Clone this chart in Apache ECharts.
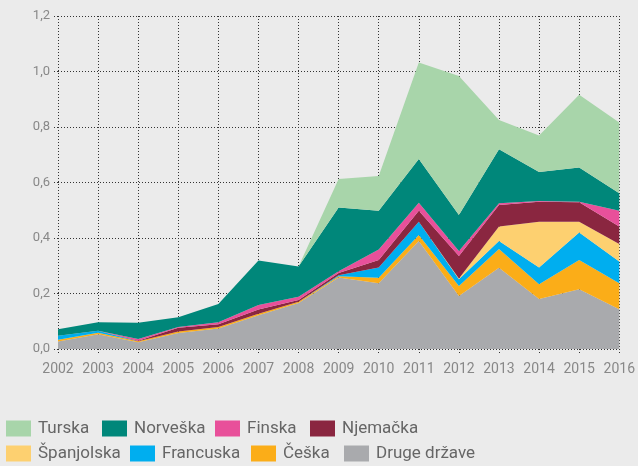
<!DOCTYPE html>
<html><head><meta charset="utf-8">
<script src="https://cdn.jsdelivr.net/npm/echarts@6/dist/echarts.min.js"></script>
<style>html,body{margin:0;padding:0;background:#ebebeb}#c{width:638px;height:466px}</style>
</head><body><div id="c"></div>
<script>
const years = ['2002','2003','2004','2005','2006','2007','2008','2009','2010','2011','2012','2013','2014','2015','2016'];
const yTicks = [0, 0.2, 0.4, 0.6, 0.8, 1.0, 1.2];
const druge      = [0.027,0.053,0.024,0.058,0.074,0.122,0.166,0.258,0.237,0.389,0.191,0.293,0.180,0.215,0.143];
const ceska      = [0.006,0.006,0.004,0.005,0.005,0.005,0.004,0.004,0.020,0.022,0.036,0.067,0.053,0.106,0.094];
const francuska  = [0.015,0.007,0.000,0.000,0.000,0.000,0.000,0.004,0.037,0.048,0.024,0.029,0.061,0.099,0.078];
const spanjolska = [0,0,0,0,0,0,0,0,0,0,0.003,0.052,0.165,0.039,0.063];
const njemacka   = [0.000,0.000,0.002,0.014,0.010,0.015,0.007,0.008,0.027,0.039,0.081,0.078,0.072,0.070,0.063];
const finska     = [0.000,0.000,0.006,0.002,0.007,0.017,0.011,0.006,0.038,0.029,0.018,0.006,0.002,0.002,0.057];
const norveska   = [0.023,0.030,0.059,0.035,0.066,0.160,0.109,0.230,0.139,0.158,0.130,0.195,0.105,0.123,0.063];
const turska     = [0,0,0,0,0,0,0,0.103,0.125,0.347,0.501,0.105,0.131,0.262,0.255];

const seriesDefs = [
  ['Druge države', druge, '#a9aaad'],
  ['Češka', ceska, '#fbad18'],
  ['Francuska', francuska, '#00aeef'],
  ['Španjolska', spanjolska, '#fdd070'],
  ['Njemačka', njemacka, '#8a2640'],
  ['Finska', finska, '#e8509a'],
  ['Norveška', norveska, '#00877a'],
  ['Turska', turska, '#a8d5aa']
];
const legendPos = {
  'Turska':[6,420],'Norveška':[102,420],'Finska':[215,420],'Njemačka':[310,420],
  'Španjolska':[6,445],'Francuska':[130,445],'Češka':[251,445],'Druge države':[344,445]
};
const legends = Object.keys(legendPos).map(n => ({
  data:[n], left:legendPos[n][0], top:legendPos[n][1], itemWidth:25, itemHeight:16, itemGap:0,
  icon:'rect', selectedMode:false, padding:0,
  textStyle:{color:'#666', fontSize:17, fontFamily:'Roboto', padding:[0,0,0,2]}
}));
const chart = echarts.init(document.getElementById('c'), null, {renderer:'canvas'});
chart.setOption({
  backgroundColor:'#ebebeb',
  animation:false,
  legend: legends,
  grid:{left:58, right:15.5, top:16, bottom:117, containLabel:false},
  xAxis:{type:'category', data:years, boundaryGap:false,
    axisLine:{show:false},
    axisTick:{show:true, length:4, interval:0, lineStyle:{color:'#333', type:[1,2]}},
    axisLabel:{color:'#888', fontSize:14, fontFamily:'Roboto', margin:13, interval:0, hideOverlap:false},
    splitLine:{show:true, interval:0, lineStyle:{color:'#333', type:[1,2], width:1}}},
  yAxis:{type:'value', min:0, max:1.2, interval:0.2,
    axisLine:{show:false},
    axisTick:{show:true, length:4, lineStyle:{color:'#333', type:[1,2]}},
    axisLabel:{color:'#888', fontSize:13, fontFamily:'Roboto', margin:8,
      formatter: v => yTicks.find(t => Math.abs(t - v) < 1e-9).toFixed(1).replace('.', ',')},
    splitLine:{show:true, lineStyle:{color:'#333', type:[1,2], width:1}}},
  series: seriesDefs.map(([name, data, color]) => ({
    name, type:'line', stack:'a', data, showSymbol:false, symbol:'none',
    lineStyle:{width:0}, itemStyle:{color}, areaStyle:{color, opacity:1}, z:3
  }))
});
</script></body></html>
